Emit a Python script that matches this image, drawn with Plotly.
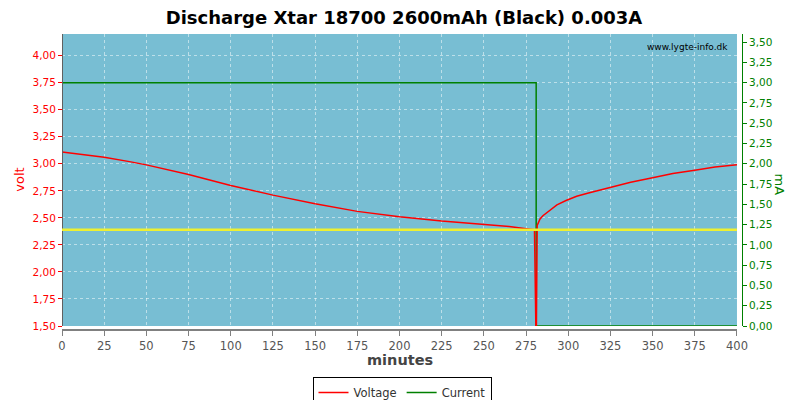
import plotly.graph_objects as go

# Voltage (discharge then recovery)
v_minutes = [0, 10, 25, 40, 50, 75, 100, 125, 150, 175, 200, 225, 250, 265, 275, 280, 280.9, 281.1, 281.6, 283.3, 285, 287.4, 290, 293.3, 298.7, 305, 312, 325, 337, 350, 362, 375, 387, 400]
v_volt = [3.11, 3.09, 3.06, 3.02, 2.99, 2.90, 2.80, 2.71, 2.63, 2.56, 2.51, 2.47, 2.44, 2.42, 2.40, 2.39, 1.40, 1.40, 2.43, 2.49, 2.52, 2.55, 2.58, 2.62, 2.66, 2.70, 2.73, 2.78, 2.83, 2.87, 2.91, 2.94, 2.97, 2.99]

# Current
c_minutes = [0, 281, 281, 400]
c_ma = [3.0, 3.0, 0.0, 0.0]

ref_voltage = 2.39
title = "Discharge Xtar 18700 2600mAh (Black) 0.003A"

fig = go.Figure()
# Current on the base (right) axis, voltage on the overlaying (left) axis so it is drawn on top
fig.add_trace(go.Scatter(x=c_minutes, y=c_ma, mode="lines", name="Current", legendrank=2,
                         line=dict(color="#008000", width=1.5), yaxis="y"))
fig.add_trace(go.Scatter(x=v_minutes, y=v_volt, mode="lines", name="Voltage", legendrank=1,
                         line=dict(color="#ff0000", width=1.5), yaxis="y2"))

fig.add_shape(type="line", xref="paper", x0=0, x1=0.9926, yref="y2", y0=ref_voltage, y1=ref_voltage,
              line=dict(color="#eef030", width=2.5), layer="above")

fig.add_annotation(text="www.lygte-info.dk", xref="paper", yref="paper", x=0.982, y=0.98,
                   xanchor="right", yanchor="top", showarrow=False,
                   font=dict(family="DejaVu Sans", size=9, color="#000000"))
fig.add_annotation(text="mA", xref="paper", yref="paper", x=1.055, y=0.49, textangle=90,
                   xanchor="center", yanchor="middle",
                   showarrow=False, font=dict(family="DejaVu Sans", size=13, color="#008000"))
fig.add_annotation(text="volt", xref="paper", yref="paper", x=-0.062, y=0.507, textangle=-90,
                   xanchor="center", yanchor="middle",
                   showarrow=False, font=dict(family="DejaVu Sans", size=13, color="#ff0000"))
fig.add_annotation(text="<b>minutes</b>", xref="paper", yref="paper", x=0.497, y=-0.101,
                   xanchor="center", yanchor="middle", showarrow=False,
                   font=dict(family="DejaVu Sans", size=14.5, color="#444444"))

grid_col = "rgba(255,255,255,0.5)"
fig.update_layout(
    width=792, height=392,
    margin=dict(l=54, r=58, t=26, b=70, autoexpand=False),
    paper_bgcolor="white", plot_bgcolor="#78bed3",
    separators=",.",
    title=dict(text="<b>" + title + "</b>", x=0.5, xanchor="center", y=0.975, yanchor="middle",
               font=dict(family="DejaVu Sans", size=18, color="#000000")),
    font=dict(family="DejaVu Sans", size=11),
    xaxis=dict(range=[0, 400], dtick=25, domain=[0, 0.9926], anchor="free", position=0, automargin=False,
               showgrid=True, gridcolor=grid_col, griddash="3px,3px", gridwidth=1,
               showline=True, linecolor="#808080", linewidth=1.5, ticks="outside", tickcolor="#808080",
               ticklen=5, tickfont=dict(color="#555555", size=11.5), zeroline=False),
    yaxis=dict(range=[0, 3.6], dtick=0.25, tickformat=".2f", side="right", domain=[0.0135, 1],
               automargin=False, anchor="free", position=1, showgrid=False, showline=True,
               linecolor="#008000", linewidth=1, ticks="outside", tickcolor="#008000", ticklen=4,
               tickfont=dict(color="#008000", size=10.5), zeroline=False),
    yaxis2=dict(range=[1.5, 4.2], dtick=0.25, tick0=1.5, tickformat=".2f", overlaying="y", side="left",
                anchor="free", position=0, automargin=False,
                showgrid=True, gridcolor=grid_col, griddash="3px,3px",
                showline=True, linecolor="#606060", linewidth=1, ticks="outside", tickcolor="#ff0000",
                ticklen=4, tickfont=dict(color="#ff0000", size=10.5), zeroline=False),
    legend=dict(orientation="h", x=0.5, xanchor="center", y=-0.159, yanchor="top",
                bordercolor="#000000", borderwidth=1, font=dict(size=11.5, color="#333333"),
                itemwidth=30, tracegroupgap=0),
    showlegend=True,
)

fig.write_html("out.html")
